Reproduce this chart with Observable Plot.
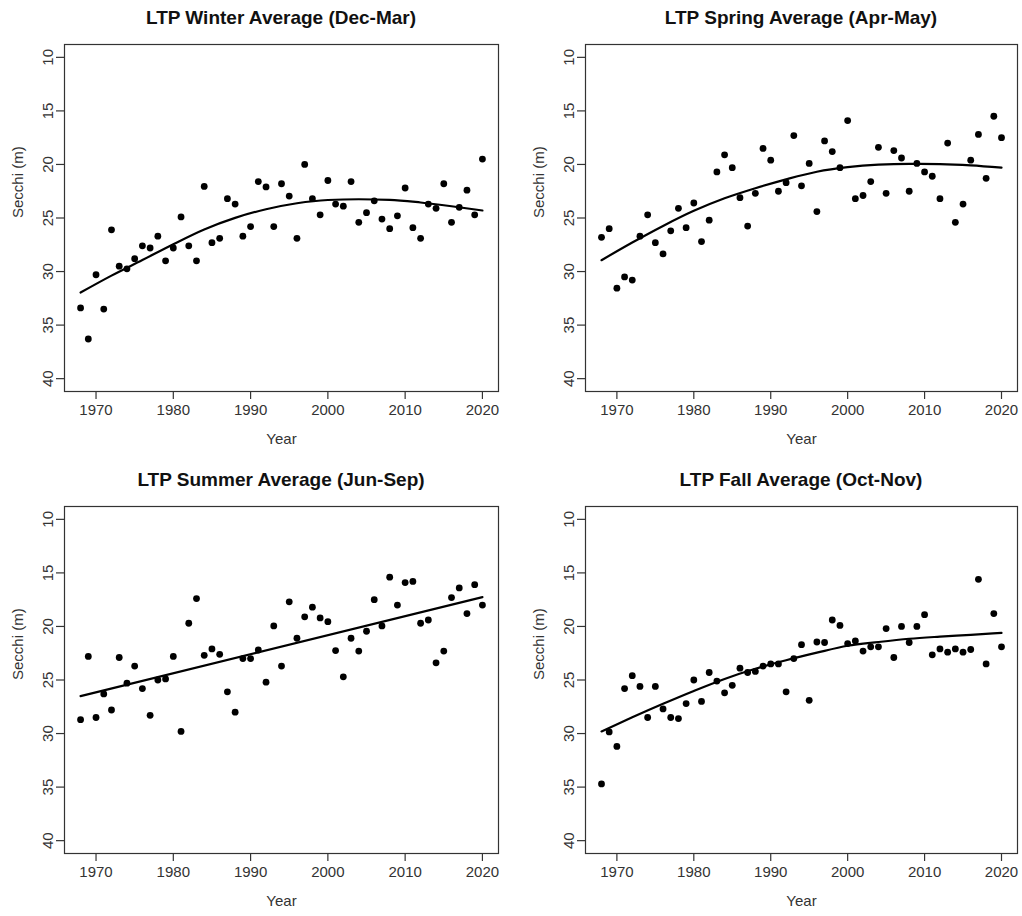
<!DOCTYPE html>
<html>
<head>
<meta charset="utf-8">
<script src="https://cdn.jsdelivr.net/npm/d3@7"></script>
<script src="https://cdn.jsdelivr.net/npm/@observablehq/plot@0.6"></script>
<style>
  html, body { margin: 0; padding: 0; background: #fff; }
  #wrap { position: relative; width: 1022px; height: 916px; overflow: hidden; font-family: "Liberation Sans", Arial, sans-serif; }
  .panel { position: absolute; }
  .title { position: absolute; text-align: center; font-weight: bold; font-size: 19px; line-height: 20px; color: #111; white-space: nowrap; }
</style>
</head>
<body>
<div id="wrap"></div>
<script>
const years = [1968,1969,1970,1971,1972,1973,1974,1975,1976,1977,1978,1979,1980,1981,1982,1983,1984,1985,1986,1987,1988,1989,1990,1991,1992,1993,1994,1995,1996,1997,1998,1999,2000,2001,2002,2003,2004,2005,2006,2007,2008,2009,2010,2011,2012,2013,2014,2015,2016,2017,2018,2019,2020];

const winter = [33.4,36.3,30.3,33.5,26.1,29.5,29.75,28.8,27.6,27.8,26.7,29.0,27.8,24.9,27.6,29.0,22.05,27.3,26.9,23.2,23.7,26.7,25.8,21.6,22.1,25.8,21.8,22.95,26.9,20.0,23.2,24.7,21.5,23.7,23.9,21.6,25.4,24.5,23.4,25.1,26.0,24.8,22.2,25.9,26.9,23.7,24.1,21.8,25.4,24.0,22.4,24.7,19.5];
const spring = [26.8,26.0,31.55,30.5,30.8,26.7,24.7,27.3,28.35,26.2,24.1,25.9,23.6,27.2,25.2,20.7,19.1,20.3,23.1,25.75,22.7,18.5,19.6,22.5,21.7,17.3,22.0,19.9,24.4,17.8,18.8,20.3,15.9,23.2,22.9,21.6,18.4,22.7,18.7,19.4,22.5,19.9,20.7,21.1,23.2,18.0,25.4,23.7,19.6,17.2,21.3,15.5,17.5];
const summer = [28.7,22.8,28.5,26.3,27.8,22.9,25.3,23.7,25.8,28.3,25.0,24.9,22.8,29.8,19.7,17.4,22.7,22.1,22.6,26.1,28.0,23.0,23.0,22.2,25.2,19.95,23.7,17.7,21.1,19.1,18.2,19.2,19.55,22.25,24.7,21.1,22.3,20.45,17.5,19.95,15.4,18.0,15.9,15.8,19.7,19.4,23.4,22.3,17.3,16.4,18.8,16.1,18.0];
const fall = [34.7,29.85,31.2,25.8,24.6,25.6,28.5,25.6,27.7,28.5,28.6,27.2,25.0,27.0,24.3,25.1,26.2,25.5,23.9,24.3,24.2,23.7,23.5,23.5,26.1,23.0,21.7,26.9,21.45,21.5,19.4,19.9,21.6,21.35,22.3,21.9,21.9,20.2,22.9,20.0,21.5,20.0,18.9,22.65,22.1,22.4,22.1,22.4,22.15,15.6,23.5,18.8,21.9];

// fitted trend lines
const curveYears = [1968,1972,1976,1980,1984,1988,1992,1996,2000,2004,2008,2012,2016,2020];
const winterFit = [31.96,30.38,28.93,27.45,26.07,24.99,24.18,23.62,23.32,23.25,23.3,23.55,23.9,24.3];
const springFit = [28.94,27.29,25.74,24.33,23.16,22.22,21.39,20.68,20.25,20.02,19.95,19.97,20.08,20.3];
const fallFit = [29.8,28.48,27.22,26.02,24.9,23.95,23.16,22.45,21.8,21.45,21.15,20.95,20.78,20.6];
const lineYears = [1968,2020];
const summerFit = [26.5,17.26];

const titles = ["LTP Winter Average (Dec-Mar)","LTP Spring Average (Apr-May)","LTP Summer Average (Jun-Sep)","LTP Fall Average (Oct-Nov)"];
const xTicks = [1970,1980,1990,2000,2010,2020];
const yTicks = [10,15,20,25,30,35,40];
const xLabel = "Year";
const yLabel = "Secchi (m)";

const series = [
  {values: winter, fx: curveYears, fy: winterFit},
  {values: spring, fx: curveYears, fy: springFit},
  {values: summer, fx: lineYears, fy: summerFit},
  {values: fall, fx: curveYears, fy: fallFit}
];

const layout = [
  {left: 0,   top: 30,  width: 520, height: 430, mL: 64, mR: 22, mT: 14, mB: 69, titleTop: 8},
  {left: 520, top: 30,  width: 502, height: 430, mL: 65, mR: 5,  mT: 14, mB: 69, titleTop: 8},
  {left: 0,   top: 492, width: 520, height: 424, mL: 64, mR: 22, mT: 14, mB: 63, titleTop: 470},
  {left: 520, top: 492, width: 502, height: 424, mL: 65, mR: 5,  mT: 14, mB: 63, titleTop: 470}
];

const wrap = document.getElementById("wrap");
const ink = "#333";

series.forEach((s, i) => {
  const L = layout[i];
  const pts = years.map((y, j) => ({year: y, secchi: s.values[j]}));
  const fit = s.fx.map((y, j) => ({year: y, secchi: s.fy[j]}));
  const chart = Plot.plot({
    width: L.width,
    height: L.height,
    marginLeft: L.mL,
    marginRight: L.mR,
    marginTop: L.mT,
    marginBottom: L.mB,
    style: {fontFamily: "'Liberation Sans', Arial, sans-serif", fontSize: "15px", color: ink, background: "white"},
    x: {domain: [1965.92, 2022.08], ticks: xTicks},
    y: {domain: [8.8, 41.2], reverse: true, ticks: yTicks},
    marks: [
      Plot.frame({stroke: ink, strokeWidth: 1.2}),
      Plot.axisX({ticks: xTicks, tickFormat: d => String(d), tickSize: 8, tickPadding: 5, fontSize: 15, stroke: ink, strokeWidth: 1.2, label: null}),
      Plot.axisY({ticks: yTicks, tickFormat: d => String(d), tickSize: 8, tickPadding: 4, tickRotate: -90, fontSize: 15, stroke: ink, strokeWidth: 1.2, label: null}),
      Plot.text([xLabel], {frameAnchor: "bottom", dy: 52, text: d => d, fontSize: 15, fill: ink}),
      Plot.text([yLabel], {frameAnchor: "left", dx: -46, rotate: -90, text: d => d, fontSize: 15, fill: ink}),
      Plot.line(fit, {x: "year", y: "secchi", curve: "monotone-x", stroke: "black", strokeWidth: 2.2}),
      Plot.dot(pts, {x: "year", y: "secchi", r: 3.4, fill: "black", stroke: "none"})
    ]
  });
  const div = document.createElement("div");
  div.className = "panel";
  div.style.left = L.left + "px";
  div.style.top = L.top + "px";
  div.appendChild(chart);
  wrap.appendChild(div);

  const t = document.createElement("div");
  t.className = "title";
  t.textContent = titles[i];
  t.style.left = (L.left + L.mL) + "px";
  t.style.width = (L.width - L.mL - L.mR) + "px";
  t.style.top = L.titleTop + "px";
  wrap.appendChild(t);
});
</script>
</body>
</html>
